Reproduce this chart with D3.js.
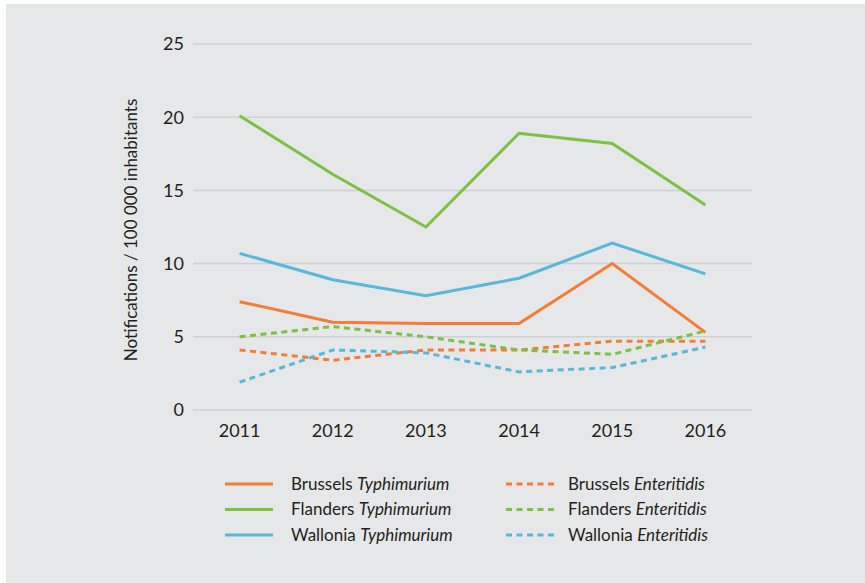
<!DOCTYPE html>
<html>
<head>
<meta charset="utf-8">
<script src="https://cdn.jsdelivr.net/npm/d3@7"></script>
<style>
  body { margin: 0; background: #fff; }
  svg { display: block; }
  text { font-family: Lato, "Open Sans", sans-serif; fill: #231f20; }
</style>
</head>
<body>
<div id="chart"></div>
<script>
// data
var years = [2011, 2012, 2013, 2014, 2015, 2016];
var brusselsTyph = [7.4, 6.0, 5.9, 5.9, 10.0, 5.3];
var flandersTyph = [20.1, 16.1, 12.5, 18.9, 18.2, 14.0];
var walloniaTyph = [10.7, 8.9, 7.8, 9.0, 11.4, 9.3];
var brusselsEnter = [4.1, 3.4, 4.1, 4.1, 4.7, 4.7];
var flandersEnter = [5.0, 5.7, 5.0, 4.1, 3.8, 5.4];
var walloniaEnter = [1.9, 4.1, 3.9, 2.6, 2.9, 4.3];
var yTicks = [0, 5, 10, 15, 20, 25];

var orange = "#f47c36", green = "#7cc142", blue = "#58b8da";

var series = [
  {region: "Brussels", type: "Typhimurium", values: brusselsTyph, color: orange, dash: null},
  {region: "Flanders", type: "Typhimurium", values: flandersTyph, color: green, dash: null},
  {region: "Wallonia", type: "Typhimurium", values: walloniaTyph, color: blue, dash: null},
  {region: "Brussels", type: "Enteritidis", values: brusselsEnter, color: orange, dash: "6,4.5"},
  {region: "Flanders", type: "Enteritidis", values: flandersEnter, color: green, dash: "6,4.5"},
  {region: "Wallonia", type: "Enteritidis", values: walloniaEnter, color: blue, dash: "6,4.5"}
];

var width = 865, height = 583;

var svg = d3.select("#chart").append("svg")
    .attr("width", width)
    .attr("height", height);

// grey panel
svg.append("rect")
    .attr("x", 6).attr("y", 4)
    .attr("width", width - 6).attr("height", height - 4)
    .attr("fill", "#e6e7e8");

var x = d3.scalePoint()
    .domain(years)
    .range([193, 752])
    .padding(0.5);

var y = d3.scaleLinear()
    .domain([0, 25])
    .range([410, 44]);

// gridlines
svg.append("g")
  .selectAll("line")
  .data(yTicks)
  .enter().append("line")
    .attr("x1", 193)
    .attr("x2", 752)
    .attr("y1", function(d) { return y(d); })
    .attr("y2", function(d) { return y(d); })
    .attr("stroke", "#cfd0d2")
    .attr("stroke-width", 1.5);

// y tick labels
svg.append("g")
  .selectAll("text")
  .data(yTicks)
  .enter().append("text")
    .attr("x", 184)
    .attr("y", function(d) { return y(d); })
    .attr("dy", "0.35em")
    .attr("text-anchor", "end")
    .style("font-size", "18px")
    .text(function(d) { return d; });

// x tick labels
svg.append("g")
  .selectAll("text")
  .data(years)
  .enter().append("text")
    .attr("x", function(d) { return x(d); })
    .attr("y", 437)
    .attr("text-anchor", "middle")
    .style("font-size", "18px")
    .text(function(d) { return d; });

// y axis title
svg.append("text")
    .attr("transform", "translate(137," + 230 + ") rotate(-90)")
    .attr("text-anchor", "middle")
    .style("font-size", "17px")
    .text("Notifications / 100 000 inhabitants");

var line = d3.line()
    .x(function(d, i) { return x(years[i]); })
    .y(function(d) { return y(d); });

// dashed first so the solid ones sit on top
var drawOrder = [3, 4, 5, 0, 1, 2];
svg.append("g")
  .selectAll("path")
  .data(drawOrder.map(function(i) { return series[i]; }))
  .enter().append("path")
    .attr("d", function(d) { return line(d.values); })
    .attr("fill", "none")
    .attr("stroke", function(d) { return d.color; })
    .attr("stroke-width", 3)
    .attr("stroke-dasharray", function(d) { return d.dash; });

// legend: two columns of three
var legend = svg.append("g")
  .selectAll("g")
  .data(series)
  .enter().append("g")
    .attr("transform", function(d, i) {
      var col = Math.floor(i / 3), row = i % 3;
      return "translate(" + (225 + col * 281) + "," + (484 + row * 25.5) + ")";
    });

legend.append("line")
    .attr("x1", 0).attr("x2", 48)
    .attr("stroke", function(d) { return d.color; })
    .attr("stroke-width", 3)
    .attr("stroke-dasharray", function(d) { return d.dash; });

var lt = legend.append("text")
    .attr("x", function(d, i) { return i < 3 ? 66 : 62; })
    .attr("dy", "0.35em")
    .style("font-size", "17px");
lt.append("tspan").text(function(d) { return d.region + " "; });
lt.append("tspan").style("font-style", "italic").text(function(d) { return d.type; });
</script>
</body>
</html>
